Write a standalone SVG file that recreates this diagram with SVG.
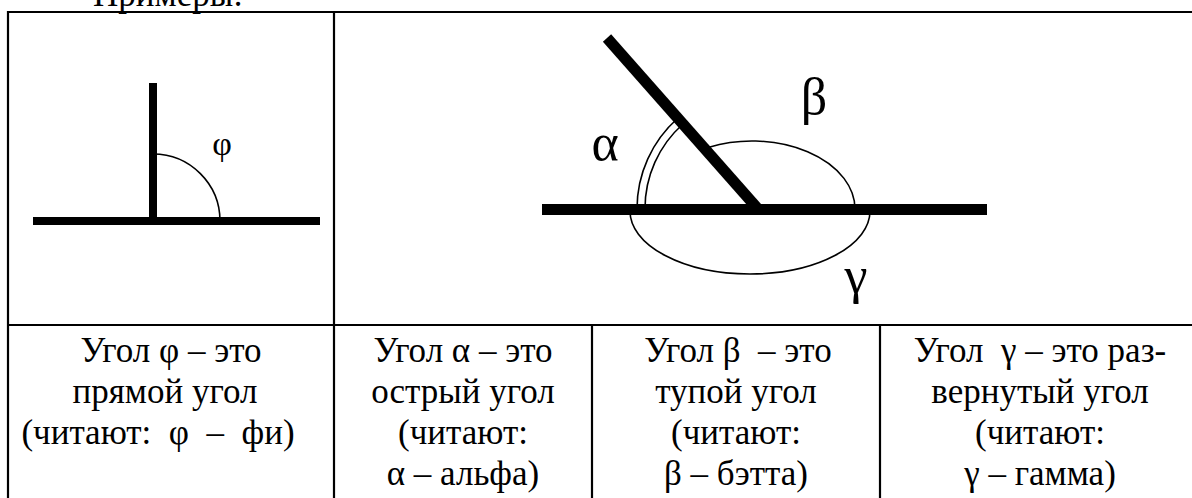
<svg xmlns="http://www.w3.org/2000/svg" width="1192" height="498" viewBox="0 0 1192 498">
<style>
.t{font-family:"Liberation Serif","Times New Roman",serif;font-size:35px;fill:#000;text-anchor:middle;white-space:pre}
.g{font-family:"Liberation Serif","Times New Roman",serif;fill:#000;text-anchor:middle}
.grid{stroke:#000;stroke-width:2.2;fill:none}
.bar{stroke:#000;fill:none;stroke-linecap:butt}
.arc{stroke:#000;stroke-width:1.6;fill:none}
</style>
<rect width="1192" height="498" fill="#fff"/>
<text id="title" class="t" x="93" y="6" style="text-anchor:start">Примеры:</text>
<g id="table" class="grid">
<line x1="7" y1="12" x2="1192" y2="12"/>
<line x1="8" y1="11" x2="8" y2="498"/>
<line x1="334" y1="11" x2="334" y2="498"/>
<line x1="7" y1="325" x2="1192" y2="325"/>
<line x1="592" y1="325" x2="592" y2="498"/>
<line x1="880" y1="325" x2="880" y2="498"/>
</g>
<g id="right-angle">
<path class="arc" d="M153 154 A67 67 0 0 1 220 221"/>
<line class="bar" x1="153" y1="83" x2="153" y2="221" stroke-width="8"/>
<line class="bar" x1="33" y1="221" x2="320" y2="221" stroke-width="8"/>
<text class="g" x="222" y="155" font-size="34">φ</text>
</g>
<g id="angles">
<path class="arc" d="M637 209 A121 121 0 0 1 678 118"/>
<path class="arc" d="M645 209 A113 113 0 0 1 683 124"/>
<path class="arc" d="M709 147.2 A103 68 0 0 1 855 209"/>
<path class="arc" d="M630 211 A120 63 0 0 0 870 211"/>
<line class="bar" x1="542" y1="209.5" x2="987" y2="209.5" stroke-width="11"/>
<line class="bar" x1="607" y1="38" x2="758" y2="209" stroke-width="11"/>
<text class="g" x="605" y="160" font-size="52">α</text>
<text class="g" x="814" y="114" font-size="52">β</text>
<text class="g" x="856" y="293" font-size="52">γ</text>
</g>
<g id="cell-phi">
<text class="t" x="171" y="362">Угол φ – это</text>
<text class="t" x="165" y="403">прямой угол</text>
<text class="t" x="158" y="444">(читают:  φ  –  фи)</text>
</g>
<g id="cell-alpha">
<text class="t" x="463" y="362">Угол α – это</text>
<text class="t" x="463" y="403">острый угол</text>
<text class="t" x="463" y="444">(читают:</text>
<text class="t" x="463" y="485">α – альфа)</text>
</g>
<g id="cell-beta">
<text class="t" x="738" y="362">Угол β  – это</text>
<text class="t" x="736" y="403">тупой угол</text>
<text class="t" x="736" y="444">(читают:</text>
<text class="t" x="736" y="485">β – бэтта)</text>
</g>
<g id="cell-gamma">
<text class="t" x="1040" y="362">Угол  γ – это раз-</text>
<text class="t" x="1040" y="403">вернутый угол</text>
<text class="t" x="1040" y="444">(читают:</text>
<text class="t" x="1040" y="485">γ – гамма)</text>
</g>
</svg>
